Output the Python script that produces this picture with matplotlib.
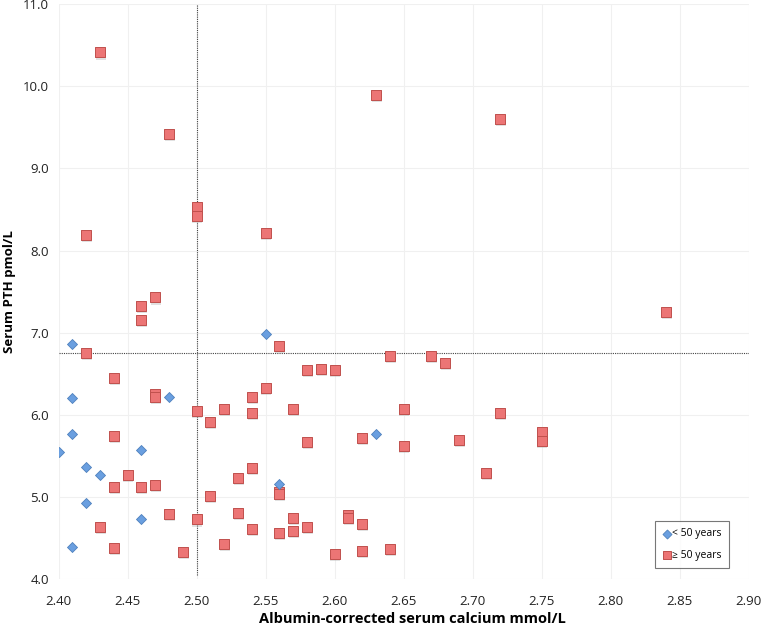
import matplotlib
matplotlib.use("Agg")
import matplotlib.pyplot as plt
from matplotlib.ticker import FormatStrFormatter

# < 50 years (blue diamonds)
young_x = [2.41, 2.41, 2.41, 2.40, 2.42, 2.43, 2.42, 2.41, 2.46, 2.46, 2.48, 2.55, 2.56, 2.63]
young_y = [6.87, 6.21, 5.77, 5.55, 5.37, 5.27, 4.93, 4.40, 5.58, 4.73, 6.22, 6.99, 5.16, 5.77]

# >= 50 years (red squares)
old_x = [2.42, 2.42, 2.43, 2.43, 2.44, 2.44, 2.44, 2.44, 2.45,
         2.46, 2.46, 2.46, 2.47, 2.47, 2.47, 2.47, 2.48, 2.48, 2.49,
         2.50, 2.50, 2.50, 2.50, 2.51, 2.51, 2.52, 2.52, 2.53, 2.53,
         2.54, 2.54, 2.54, 2.54, 2.55, 2.55, 2.56, 2.56, 2.56, 2.56,
         2.57, 2.57, 2.57, 2.58, 2.58, 2.58, 2.59, 2.60, 2.60, 2.61, 2.61,
         2.62, 2.62, 2.62, 2.63, 2.64, 2.64, 2.65, 2.65, 2.67, 2.68, 2.69,
         2.71, 2.72, 2.72, 2.75, 2.75, 2.84]
old_y = [8.19, 6.75, 10.41, 4.64, 6.45, 5.75, 5.13, 4.38, 5.27,
         7.33, 7.16, 5.13, 7.43, 6.26, 6.22, 5.15, 9.42, 4.80, 4.34,
         8.53, 8.42, 6.05, 4.73, 5.92, 5.01, 6.07, 4.43, 5.23, 4.81,
         6.22, 6.03, 5.36, 4.61, 8.21, 6.33, 6.84, 5.07, 5.04, 4.56,
         6.07, 4.75, 4.59, 6.55, 5.67, 4.64, 6.56, 6.55, 4.31, 4.79, 4.75,
         5.72, 4.68, 4.35, 9.89, 6.72, 4.37, 6.07, 5.62, 6.72, 6.63, 5.70,
         5.30, 9.60, 6.03, 5.79, 5.68, 7.25]

calcium_cut = 2.50
pth_cut = 6.75
x_ticks = [2.40, 2.45, 2.50, 2.55, 2.60, 2.65, 2.70, 2.75, 2.80, 2.85, 2.90]
y_ticks = [4.0, 5.0, 6.0, 7.0, 8.0, 9.0, 10.0, 11.0]

plt.rcParams['font.family'] = ['Open Sans', 'DejaVu Sans']

fig = plt.figure(figsize=(7.61, 6.32), dpi=100)
ax = fig.add_axes([0.0769, 0.0831, 0.9067, 0.9106])

ax.set_xlim(2.40, 2.90)
ax.set_ylim(4.0, 11.0)
ax.set_xticks(x_ticks)
ax.set_yticks(y_ticks)
ax.xaxis.set_major_formatter(FormatStrFormatter('%.2f'))
ax.yaxis.set_major_formatter(FormatStrFormatter('%.1f'))
ax.grid(True, color='#f0f0f0', linewidth=0.8)
ax.set_axisbelow(True)
for s in ax.spines.values():
    s.set_visible(False)
ax.tick_params(length=0, labelsize=9.5, colors='#222222')
ax.tick_params(axis='x', pad=11)
ax.tick_params(axis='y', pad=7)

# reference lines
ax.plot([calcium_cut, calcium_cut], [4.05, 11.0], color='#444444', lw=0.8,
        linestyle=(0, (1, 1)), zorder=2)
ax.plot([2.40, 2.90], [pth_cut, pth_cut], color='#444444', lw=0.8,
        linestyle=(0, (1, 1)), zorder=2)

# soft shadows
ax.scatter([x + 0.0006 for x in old_x], [y - 0.025 for y in old_y], marker='s', s=50,
           color='#aaaaaa', alpha=0.35, linewidths=0, zorder=3)
ax.scatter(old_x, old_y, marker='s', s=44, facecolor='#EC7575', edgecolor='#C0504D',
           linewidths=0.7, zorder=4, label='\u2265 50 years')
ax.scatter(young_x, young_y, marker='D', s=26, facecolor='#6A9FE0', edgecolor='#4F81BD',
           linewidths=0.6, zorder=5, label='< 50 years')

handles, labels = ax.get_legend_handles_labels()
leg = ax.legend([handles[1], handles[0]], [labels[1], labels[0]], loc='lower right',
                bbox_to_anchor=(0.9715, 0.020), fontsize=7.5, frameon=True, fancybox=False,
                edgecolor='#555555', handletextpad=0.05, labelspacing=1.0,
                borderpad=0.7, borderaxespad=0, markerscale=0.9, handlelength=0.9)
leg.get_frame().set_linewidth(0.8)

ax.set_xlabel('Albumin-corrected serum calcium mmol/L', fontsize=10.5, fontweight='bold',
              labelpad=6)
ax.xaxis.set_label_coords(0.513, -0.056)
ax.set_ylabel('Serum PTH pmol/L', fontsize=9.5, fontweight='bold')
ax.yaxis.set_label_coords(-0.0616, 0.5)

fig.savefig('out.png', dpi=100)
